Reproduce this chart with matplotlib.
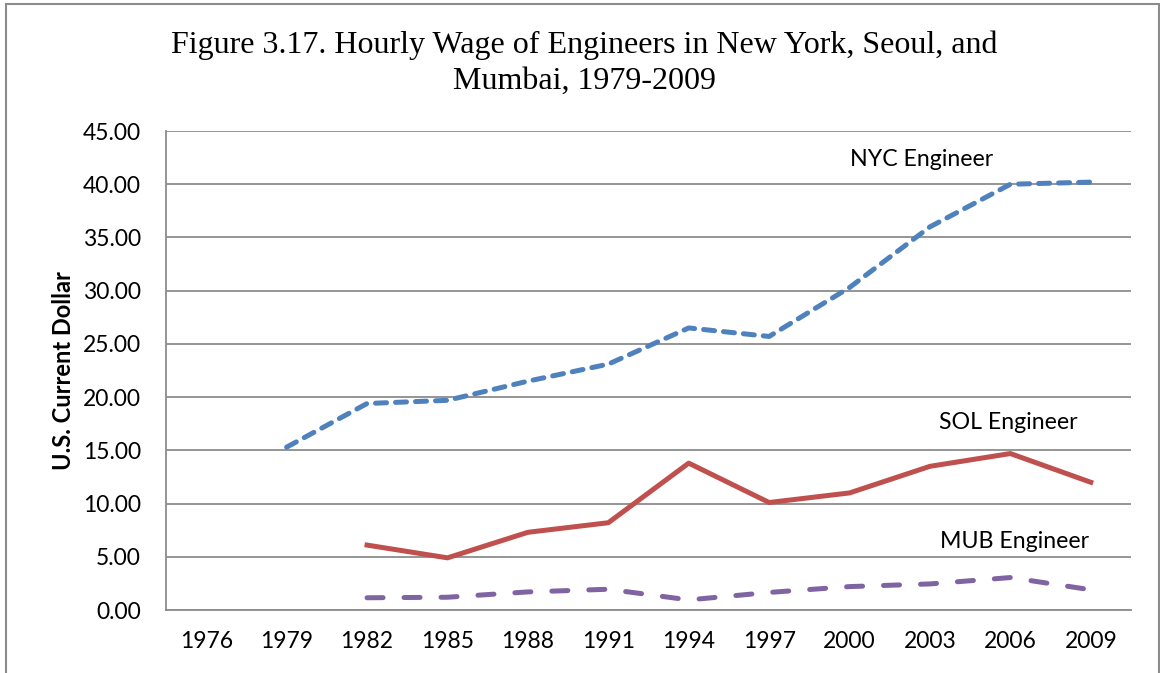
import matplotlib.pyplot as plt
from matplotlib.patches import Rectangle

# data
anos = ['1976', '1979', '1982', '1985', '1988', '1991', '1994', '1997', '2000', '2003', '2006', '2009']
nyc = [None, 15.3, 19.4, 19.7, 21.5, 23.1, 26.5, 25.7, 30.3, 36.0, 40.0, 40.2]
sol = [None, None, 6.1, 4.9, 7.3, 8.2, 13.8, 10.1, 11.0, 13.5, 14.7, 12.0]
mub = [None, None, 1.15, 1.2, 1.7, 1.95, 0.95, 1.65, 2.2, 2.45, 3.05, 1.9]

yticks = [0, 5, 10, 15, 20, 25, 30, 35, 40, 45]

x = list(range(len(anos)))

def serie(v):
    xs = [i for i, val in zip(x, v) if val is not None]
    ys = [val for val in v if val is not None]
    return xs, ys

fig = plt.figure(figsize=(11.6, 6.73), dpi=100)
ax = fig.add_axes([0.1431, 0.0936, 0.8319, 0.7117])

# moldura do grafico
fig.patches.append(Rectangle((6 / 1160, -0.1), 1153 / 1160, 1.1 - 4 / 673,
                             transform=fig.transFigure, fill=False,
                             edgecolor='#8c8c8c', linewidth=1.5))

xs, ys = serie(nyc)
ax.plot(xs, ys, color='#4F81BD', linewidth=3.6, dashes=(2.2, 1.8),
        dash_capstyle='round', solid_joinstyle='round', zorder=3)
xs, ys = serie(sol)
ax.plot(xs, ys, color='#C0504D', linewidth=3.6, solid_joinstyle='round', zorder=3)
xs, ys = serie(mub)
ax.plot(xs, ys, color='#8064A2', linewidth=3.6, dashes=(3.2, 4.2),
        dash_capstyle='round', zorder=3)

ax.set_xlim(-0.5, len(anos) - 0.5)
ax.set_ylim(0, 45)
ax.set_yticks(yticks)
ax.set_yticklabels(['%.2f' % v for v in yticks])
ax.set_xticks(x)
ax.set_xticklabels(anos)
ax.grid(axis='y', color='#8c8c8c', linewidth=1.3)
ax.set_axisbelow(True)
for s in ['top', 'right']:
    ax.spines[s].set_visible(False)
for s in ['left', 'bottom']:
    ax.spines[s].set_color('#8c8c8c')
    ax.spines[s].set_linewidth(1.3)
ax.tick_params(length=0, labelsize=16.5, pad=15)
ax.tick_params(axis='y', pad=18)
for lab in ax.get_xticklabels() + ax.get_yticklabels():
    lab.set_family('Lato')

ax.set_ylabel('U.S. Current Dollar', fontsize=17, fontweight='bold',
              family='Lato', labelpad=6)

# rotulos das series
ax.text(8.9, 42.3, 'NYC Engineer', fontsize=16.7, family='Lato', ha='center', va='center')
ax.text(9.98, 17.6, 'SOL Engineer', fontsize=16.7, family='Lato', ha='center', va='center')
ax.text(10.05, 6.4, 'MUB Engineer', fontsize=16.7, family='Lato', ha='center', va='center')

fig.text(0.504, 0.906, 'Figure 3.17. Hourly Wage of Engineers in New York, Seoul, and\nMumbai, 1979-2009',
         ha='center', va='center', fontsize=23, family='Liberation Serif', linespacing=1.3)

fig.savefig('out.png', dpi=100)
